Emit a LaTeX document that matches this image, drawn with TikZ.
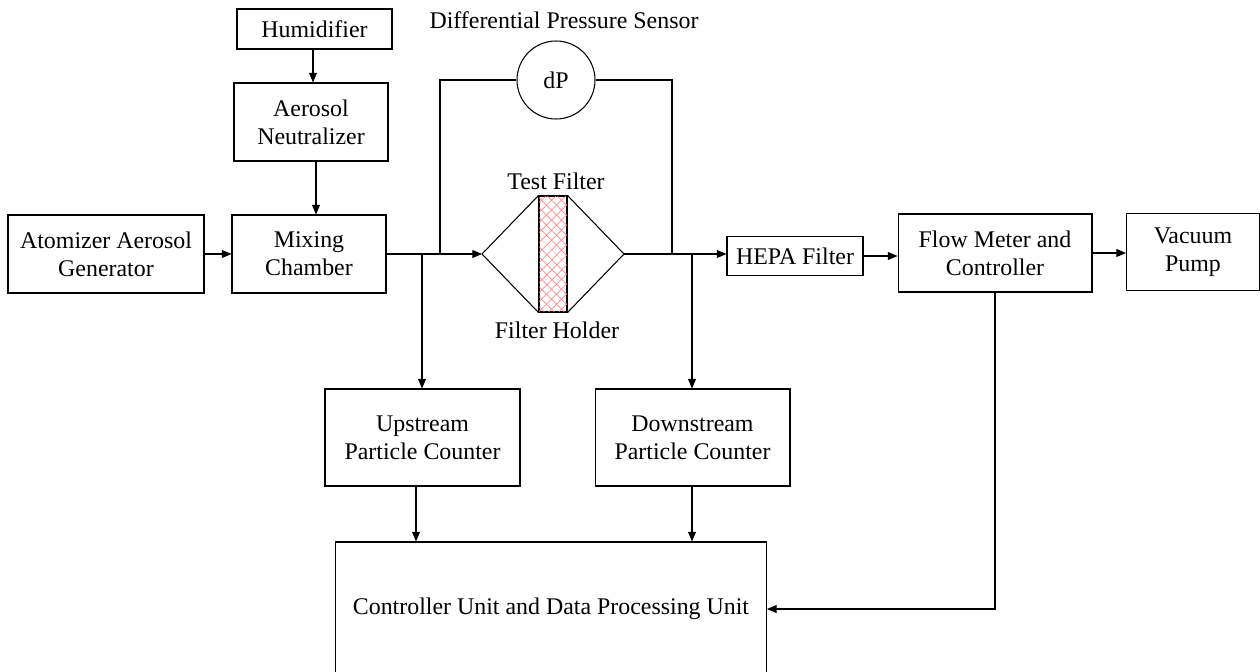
\documentclass[tikz,border=0pt]{standalone}
\usepackage{fontspec}
\setmainfont{Liberation Serif}
\usetikzlibrary{arrows.meta, positioning, patterns.meta}
\tikzset{
    block/.style={draw, align=center, inner sep=0pt, font=\fontsize{13.6}{16}\selectfont},
    caption/.style={font=\fontsize{13.6}{16}\selectfont, inner sep=0pt},
    flow/.style={-{Triangle[length=5.5pt,width=4.5pt]}},
    junction/.style={coordinate},
}

\begin{document}
\begin{tikzpicture}[x=0.02cm, y=-0.02cm, line width=0.6pt]
    \useasboundingbox (0,0) rectangle (1260,672);

    % supply side
    \node[block, minimum width=3.1cm, minimum height=0.8cm] (hum) at (314.5,29) {Humidifier};
    \node[block, minimum width=3.08cm, minimum height=1.56cm] (neut) at (311,122) {Aerosol\\Neutralizer};
    \node[block, minimum width=3.92cm, minimum height=1.56cm] (atom) at (106,254) {Atomizer Aerosol\\Generator};
    \node[block, minimum width=3.08cm, minimum height=1.56cm] (mix) at (309,254) {Mixing\\Chamber};

    \draw[flow] ([xshift=-0.03cm]hum.south) -- ([xshift=-0.03cm]hum.south |- neut.north);
    \draw[flow] ([xshift=0.1cm]neut.south) -- ([xshift=0.1cm]neut.south |- mix.north);
    \draw[flow] (atom.east) -- (mix.west);

    % filter holder with test filter
    \node[draw, minimum width=0.56cm, minimum height=2.32cm, inner sep=0pt,
          postaction={pattern={Lines[angle=45,distance=4pt,line width=0.4pt]}, pattern color=red!55},
          postaction={pattern={Lines[angle=-45,distance=4pt,line width=0.4pt]}, pattern color=red!55}] (filt) at (553,254) {};
    \coordinate (hin) at (482,254);
    \coordinate (hout) at (624,254);
    \draw (filt.north west) -- (hin) -- (filt.south west);
    \draw (filt.north east) -- (hout) -- (filt.south east);
    \node[caption] (tf) at (556,181) {Test Filter};
    \node[caption] (fh) at (557,330) {Filter Holder};

    % differential pressure sensor
    \node[draw, circle, minimum size=1.56cm, inner sep=0pt, font=\fontsize{13.6}{16}\selectfont] (dp) at (556,80) {dP};
    \node[caption] (dps) at (564,20) {Differential Pressure Sensor};

    \node[junction] (j1) at (440,254) {};
    \node[junction] (j2) at (422,254) {};
    \node[junction] (j3) at (672,254) {};
    \node[junction] (j4) at (692,254) {};

    \draw[flow] (mix.east) -- (hin);
    \draw (j1) |- (dp.west);
    \draw (dp.east) -| (j3);

    % downstream side
    \node[block, minimum width=2.72cm, minimum height=0.78cm] (hepa) at (795,256) {HEPA Filter};
    \node[block, minimum width=3.88cm, minimum height=1.56cm] (fmc) at (995,253) {Flow Meter and\\Controller};
    \node[block, minimum width=2.66cm, minimum height=1.54cm] (vac) at (1193,252) {Vacuum\\Pump};

    \draw[flow] (hout) -- (hepa.west |- hout);
    \draw[flow] (hepa.east) -- (fmc.west |- hepa.east);
    \draw[flow] (fmc.east) -- (vac.west |- fmc.east);

    % counters and processing
    \node[block, minimum width=3.9cm, minimum height=1.94cm] (up) at (422.5,437.5) {Upstream\\Particle Counter};
    \node[block, minimum width=3.9cm, minimum height=1.94cm] (down) at (692.5,437.5) {Downstream\\Particle Counter};
    \node[block, minimum width=8.62cm, minimum height=2.68cm] (ctrl) at (551,609) {Controller Unit and Data Processing Unit};

    \draw[flow] (j2) -- (j2 |- up.north);
    \draw[flow] (j4) -- (j4 |- down.north);
    \coordinate (u1) at (416,486);
    \draw[flow] (u1) -- (u1 |- ctrl.north);
    \draw[flow] (j4 |- down.south) -- (j4 |- ctrl.north);
    \draw[flow] (fmc.south) |- (ctrl.east);
\end{tikzpicture}
\end{document}
